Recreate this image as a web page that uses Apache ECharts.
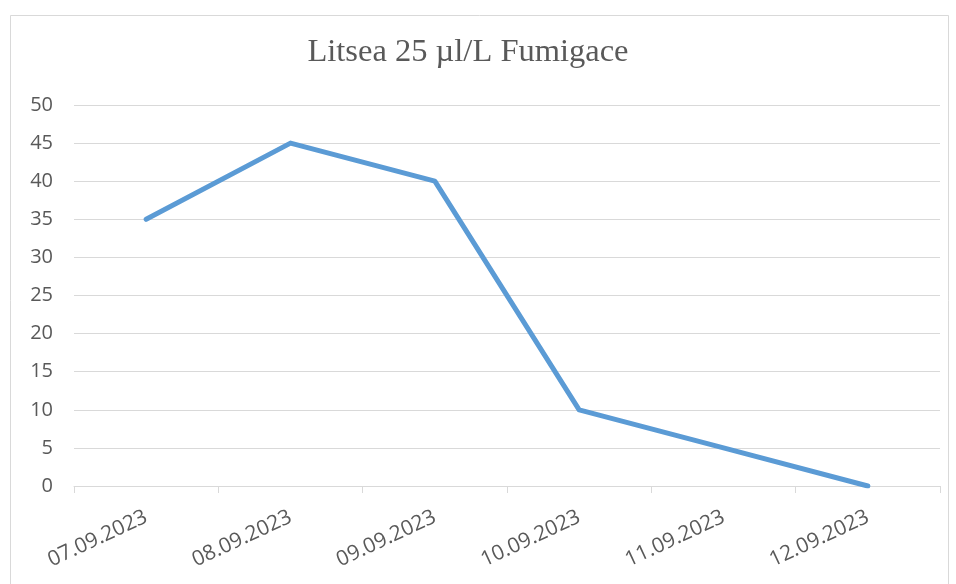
<!DOCTYPE html>
<html>
<head>
<meta charset="utf-8">
<script src="https://cdn.jsdelivr.net/npm/echarts@6/dist/echarts.min.js"></script>
<style>html,body{margin:0;padding:0;background:#fff;}#c{width:956px;height:584px;}</style>
</head>
<body>
<div id="c"></div>
<script>
var categories = ['07.09.2023','08.09.2023','09.09.2023','10.09.2023','11.09.2023','12.09.2023'];
var values = [35, 45, 40, 10, 5, 0];
var titleText = 'Litsea 25 µl/L Fumigace';

var chart = echarts.init(document.getElementById('c'));
chart.setOption({
  animation: false,
  backgroundColor: '#fff',
  graphic: [{
    type: 'rect',
    shape: { x: 10.5, y: 15.5, width: 938, height: 600 },
    style: { fill: 'none', stroke: '#d9d9d9', lineWidth: 1 },
    silent: true
  }],
  title: {
    text: titleText,
    left: 463, top: 31, textAlign: 'center',
    textStyle: { fontFamily: 'Liberation Serif', fontSize: 32.5, fontWeight: 'normal', color: '#595959' }
  },
  grid: { left: 74, right: 16, top: 105, bottom: 98, containLabel: false },
  xAxis: {
    type: 'category',
    data: categories,
    boundaryGap: true,
    axisLine: { show: true, lineStyle: { color: '#d9d9d9', width: 1 } },
    axisTick: { show: true, length: 7, lineStyle: { color: '#d9d9d9' } },
    axisLabel: { rotate: 25, margin: 30, fontFamily: 'Open Sans', fontSize: 21, color: '#595959', interval: 0 },
    splitLine: { show: false }
  },
  yAxis: {
    type: 'value',
    min: 0, max: 50, interval: 5,
    axisLine: { show: false },
    axisTick: { show: false },
    axisLabel: { fontFamily: 'Open Sans', fontSize: 20, color: '#595959', margin: 21 },
    splitLine: { lineStyle: { color: '#d9d9d9', width: 1 } }
  },
  series: [{
    type: 'line',
    data: values,
    symbol: 'none',
    lineStyle: { color: '#5b9bd5', width: 5, cap: 'round', join: 'round' }
  }]
});
</script>
</body>
</html>
